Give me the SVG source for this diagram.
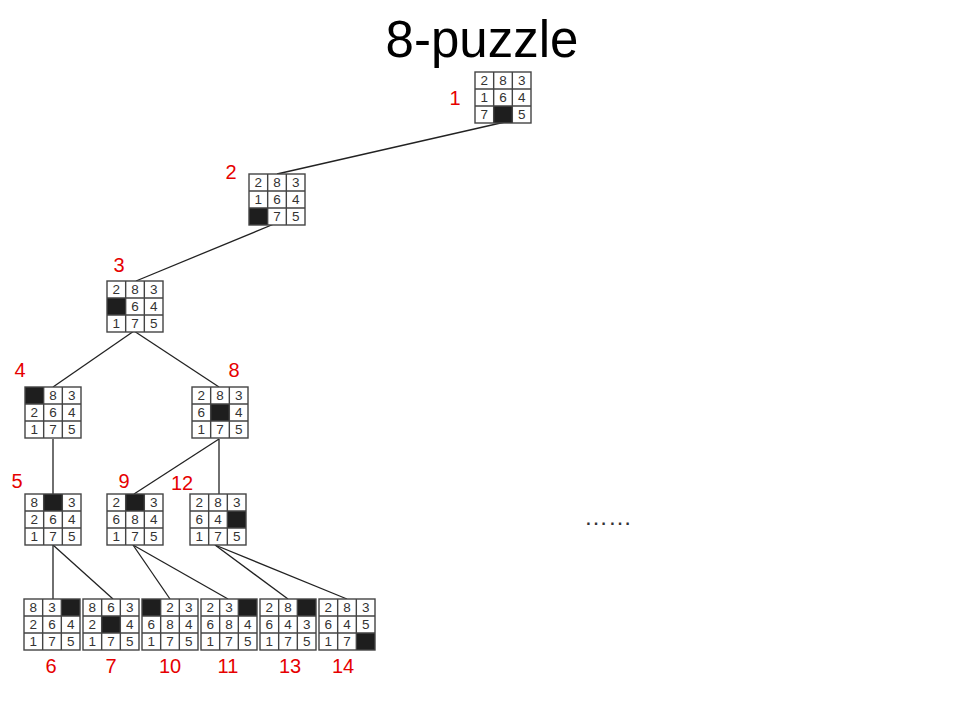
<svg xmlns="http://www.w3.org/2000/svg" xmlns:xlink="http://www.w3.org/1999/xlink" width="960" height="720" viewBox="0 0 960 720">
<style>
.bg{fill:#fff}
.blk{fill:#1e1e1e}
.grid{fill:none;stroke:#444;stroke-width:1.4}
.d{font-family:"Liberation Sans",Arial,sans-serif;font-size:13.5px;fill:#333;text-anchor:middle}
.lbl{font-family:"Liberation Sans",Arial,sans-serif;font-size:20px;fill:#e60000;text-anchor:middle}
.title{font-family:"Liberation Sans",Arial,sans-serif;font-size:51px;fill:#000;text-anchor:middle}
.edge{stroke:#222;stroke-width:1.3;fill:none}
</style>
<defs>
<g id="g">
<rect class="grid" x="0" y="0" width="56" height="51"/>
<path class="grid" d="M18.67 0V51M37.33 0V51M0 17H56M0 34H56"/>
</g>
</defs>
<rect x="0" y="0" width="960" height="720" fill="#fff"/>
<text class="title" x="482" y="57">8-puzzle</text>

<g id="connectors">
<line class="edge" x1="505" y1="122" x2="277" y2="174"/>
<line class="edge" x1="274" y1="224" x2="136" y2="281"/>
<line class="edge" x1="134" y1="331" x2="53" y2="387"/>
<line class="edge" x1="134" y1="331" x2="219" y2="387"/>
<line class="edge" x1="53" y1="439" x2="53" y2="494"/>
<line class="edge" x1="219" y1="439" x2="134" y2="494"/>
<line class="edge" x1="219" y1="439" x2="219" y2="494"/>
<line class="edge" x1="53" y1="545" x2="53" y2="599"/>
<line class="edge" x1="53" y1="545" x2="113" y2="599"/>
<line class="edge" x1="133" y1="545" x2="170" y2="599"/>
<line class="edge" x1="133" y1="545" x2="228" y2="599"/>
<line class="edge" x1="215" y1="545" x2="288" y2="599"/>
<line class="edge" x1="215" y1="545" x2="347" y2="599"/>
</g>

<g id="node1" transform="translate(475,72)">
<rect class="bg" width="56" height="51"/><rect class="blk" x="18.67" y="34" width="18.67" height="17"/><use xlink:href="#g" href="#g"/>
<text class="d" x="9.33" y="13">2</text><text class="d" x="28" y="13">8</text><text class="d" x="46.67" y="13">3</text>
<text class="d" x="9.33" y="30">1</text><text class="d" x="28" y="30">6</text><text class="d" x="46.67" y="30">4</text>
<text class="d" x="9.33" y="47">7</text><text class="d" x="46.67" y="47">5</text>
</g>
<g id="node2" transform="translate(249,174)">
<rect class="bg" width="56" height="51"/><rect class="blk" x="0" y="34" width="18.67" height="17"/><use xlink:href="#g" href="#g"/>
<text class="d" x="9.33" y="13">2</text><text class="d" x="28" y="13">8</text><text class="d" x="46.67" y="13">3</text>
<text class="d" x="9.33" y="30">1</text><text class="d" x="28" y="30">6</text><text class="d" x="46.67" y="30">4</text>
<text class="d" x="28" y="47">7</text><text class="d" x="46.67" y="47">5</text>
</g>
<g id="node3" transform="translate(107,281)">
<rect class="bg" width="56" height="51"/><rect class="blk" x="0" y="17" width="18.67" height="17"/><use xlink:href="#g" href="#g"/>
<text class="d" x="9.33" y="13">2</text><text class="d" x="28" y="13">8</text><text class="d" x="46.67" y="13">3</text>
<text class="d" x="28" y="30">6</text><text class="d" x="46.67" y="30">4</text>
<text class="d" x="9.33" y="47">1</text><text class="d" x="28" y="47">7</text><text class="d" x="46.67" y="47">5</text>
</g>
<g id="node4" transform="translate(25,387)">
<rect class="bg" width="56" height="51"/><rect class="blk" x="0" y="0" width="18.67" height="17"/><use xlink:href="#g" href="#g"/>
<text class="d" x="28" y="13">8</text><text class="d" x="46.67" y="13">3</text>
<text class="d" x="9.33" y="30">2</text><text class="d" x="28" y="30">6</text><text class="d" x="46.67" y="30">4</text>
<text class="d" x="9.33" y="47">1</text><text class="d" x="28" y="47">7</text><text class="d" x="46.67" y="47">5</text>
</g>
<g id="node8" transform="translate(192,387)">
<rect class="bg" width="56" height="51"/><rect class="blk" x="18.67" y="17" width="18.67" height="17"/><use xlink:href="#g" href="#g"/>
<text class="d" x="9.33" y="13">2</text><text class="d" x="28" y="13">8</text><text class="d" x="46.67" y="13">3</text>
<text class="d" x="9.33" y="30">6</text><text class="d" x="46.67" y="30">4</text>
<text class="d" x="9.33" y="47">1</text><text class="d" x="28" y="47">7</text><text class="d" x="46.67" y="47">5</text>
</g>
<g id="node5" transform="translate(25,494)">
<rect class="bg" width="56" height="51"/><rect class="blk" x="18.67" y="0" width="18.67" height="17"/><use xlink:href="#g" href="#g"/>
<text class="d" x="9.33" y="13">8</text><text class="d" x="46.67" y="13">3</text>
<text class="d" x="9.33" y="30">2</text><text class="d" x="28" y="30">6</text><text class="d" x="46.67" y="30">4</text>
<text class="d" x="9.33" y="47">1</text><text class="d" x="28" y="47">7</text><text class="d" x="46.67" y="47">5</text>
</g>
<g id="node9" transform="translate(107,494)">
<rect class="bg" width="56" height="51"/><rect class="blk" x="18.67" y="0" width="18.67" height="17"/><use xlink:href="#g" href="#g"/>
<text class="d" x="9.33" y="13">2</text><text class="d" x="46.67" y="13">3</text>
<text class="d" x="9.33" y="30">6</text><text class="d" x="28" y="30">8</text><text class="d" x="46.67" y="30">4</text>
<text class="d" x="9.33" y="47">1</text><text class="d" x="28" y="47">7</text><text class="d" x="46.67" y="47">5</text>
</g>
<g id="node12" transform="translate(190,494)">
<rect class="bg" width="56" height="51"/><rect class="blk" x="37.33" y="17" width="18.67" height="17"/><use xlink:href="#g" href="#g"/>
<text class="d" x="9.33" y="13">2</text><text class="d" x="28" y="13">8</text><text class="d" x="46.67" y="13">3</text>
<text class="d" x="9.33" y="30">6</text><text class="d" x="28" y="30">4</text>
<text class="d" x="9.33" y="47">1</text><text class="d" x="28" y="47">7</text><text class="d" x="46.67" y="47">5</text>
</g>
<g id="node6" transform="translate(24,599)">
<rect class="bg" width="56" height="51"/><rect class="blk" x="37.33" y="0" width="18.67" height="17"/><use xlink:href="#g" href="#g"/>
<text class="d" x="9.33" y="13">8</text><text class="d" x="28" y="13">3</text>
<text class="d" x="9.33" y="30">2</text><text class="d" x="28" y="30">6</text><text class="d" x="46.67" y="30">4</text>
<text class="d" x="9.33" y="47">1</text><text class="d" x="28" y="47">7</text><text class="d" x="46.67" y="47">5</text>
</g>
<g id="node7" transform="translate(83,599)">
<rect class="bg" width="56" height="51"/><rect class="blk" x="18.67" y="17" width="18.67" height="17"/><use xlink:href="#g" href="#g"/>
<text class="d" x="9.33" y="13">8</text><text class="d" x="28" y="13">6</text><text class="d" x="46.67" y="13">3</text>
<text class="d" x="9.33" y="30">2</text><text class="d" x="46.67" y="30">4</text>
<text class="d" x="9.33" y="47">1</text><text class="d" x="28" y="47">7</text><text class="d" x="46.67" y="47">5</text>
</g>
<g id="node10" transform="translate(142,599)">
<rect class="bg" width="56" height="51"/><rect class="blk" x="0" y="0" width="18.67" height="17"/><use xlink:href="#g" href="#g"/>
<text class="d" x="28" y="13">2</text><text class="d" x="46.67" y="13">3</text>
<text class="d" x="9.33" y="30">6</text><text class="d" x="28" y="30">8</text><text class="d" x="46.67" y="30">4</text>
<text class="d" x="9.33" y="47">1</text><text class="d" x="28" y="47">7</text><text class="d" x="46.67" y="47">5</text>
</g>
<g id="node11" transform="translate(201,599)">
<rect class="bg" width="56" height="51"/><rect class="blk" x="37.33" y="0" width="18.67" height="17"/><use xlink:href="#g" href="#g"/>
<text class="d" x="9.33" y="13">2</text><text class="d" x="28" y="13">3</text>
<text class="d" x="9.33" y="30">6</text><text class="d" x="28" y="30">8</text><text class="d" x="46.67" y="30">4</text>
<text class="d" x="9.33" y="47">1</text><text class="d" x="28" y="47">7</text><text class="d" x="46.67" y="47">5</text>
</g>
<g id="node13" transform="translate(260,599)">
<rect class="bg" width="56" height="51"/><rect class="blk" x="37.33" y="0" width="18.67" height="17"/><use xlink:href="#g" href="#g"/>
<text class="d" x="9.33" y="13">2</text><text class="d" x="28" y="13">8</text>
<text class="d" x="9.33" y="30">6</text><text class="d" x="28" y="30">4</text><text class="d" x="46.67" y="30">3</text>
<text class="d" x="9.33" y="47">1</text><text class="d" x="28" y="47">7</text><text class="d" x="46.67" y="47">5</text>
</g>
<g id="node14" transform="translate(319,599)">
<rect class="bg" width="56" height="51"/><rect class="blk" x="37.33" y="34" width="18.67" height="17"/><use xlink:href="#g" href="#g"/>
<text class="d" x="9.33" y="13">2</text><text class="d" x="28" y="13">8</text><text class="d" x="46.67" y="13">3</text>
<text class="d" x="9.33" y="30">6</text><text class="d" x="28" y="30">4</text><text class="d" x="46.67" y="30">5</text>
<text class="d" x="9.33" y="47">1</text><text class="d" x="28" y="47">7</text>
</g>

<g id="labels">
<text class="lbl" x="455" y="105">1</text>
<text class="lbl" x="231" y="179">2</text>
<text class="lbl" x="119" y="272">3</text>
<text class="lbl" x="20" y="377">4</text>
<text class="lbl" x="234" y="377">8</text>
<text class="lbl" x="17" y="488">5</text>
<text class="lbl" x="124" y="488">9</text>
<text class="lbl" x="182" y="490">12</text>
<text class="lbl" x="51" y="673">6</text>
<text class="lbl" x="111" y="673">7</text>
<text class="lbl" x="170" y="673">10</text>
<text class="lbl" x="228" y="673">11</text>
<text class="lbl" x="290" y="673">13</text>
<text class="lbl" x="343" y="673">14</text>
</g>
<text x="608" y="525" font-family="Liberation Sans, Arial, sans-serif" font-size="24" fill="#333" text-anchor="middle">……</text>
</svg>
